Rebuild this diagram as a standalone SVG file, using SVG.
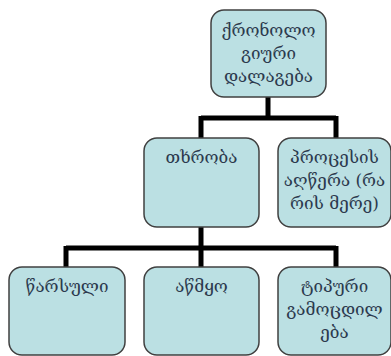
<svg xmlns="http://www.w3.org/2000/svg" width="391" height="356" viewBox="0 0 391 356">
<style>
.box{fill:#bbe0e3;stroke:#404040;stroke-width:1.5}
.t{font-family:"DejaVu Serif","DejaVu Sans",serif;font-size:17px;fill:#2c3a4e;text-anchor:middle}
.c{fill:none;stroke:#000;stroke-width:5;stroke-linecap:butt;stroke-linejoin:miter}
</style>
<rect width="391" height="356" fill="#fff"/>
<g id="connectors">
<path class="c" d="M268,97 V118 M201,118 H336 M201,116 V138 M336,116 V138"/>
<path class="c" d="M201,227 V248 M66,248 H336 M66,246 V267 M201,246 V267 M336,246 V267"/>
</g>
<g id="n_top">
<rect class="box" x="211" y="10" width="115" height="87" rx="13"/>
<text class="t" x="268.5" y="36">ქრონოლო</text>
<text class="t" x="268.5" y="59">გიური</text>
<text class="t" x="268.5" y="82">დალაგება</text>
</g>
<g id="n_tkhroba">
<rect class="box" x="144" y="138" width="115" height="89" rx="13"/>
<text class="t" x="201.5" y="163">თხრობა</text>
</g>
<g id="n_process">
<rect class="box" x="278" y="138" width="113" height="89" rx="13"/>
<text class="t" x="334.5" y="163">პროცესის</text>
<text class="t" x="334.5" y="186">აღწერა (რა</text>
<text class="t" x="334.5" y="209">რის მერე)</text>
</g>
<g id="n_past">
<rect class="box" x="9" y="267" width="116" height="88" rx="13"/>
<text class="t" x="67" y="292">წარსული</text>
</g>
<g id="n_present">
<rect class="box" x="144" y="267" width="115" height="88" rx="13"/>
<text class="t" x="201.5" y="292">აწმყო</text>
</g>
<g id="n_typical">
<rect class="box" x="278" y="267" width="113" height="88" rx="13"/>
<text class="t" x="334.5" y="292">ტიპური</text>
<text class="t" x="334.5" y="315">გამოცდილ</text>
<text class="t" x="334.5" y="338">ება</text>
</g>
</svg>
